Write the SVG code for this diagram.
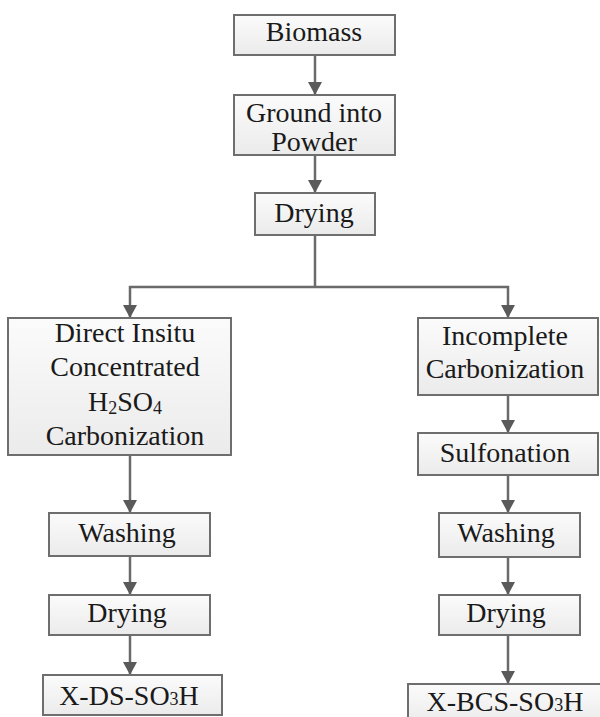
<svg xmlns="http://www.w3.org/2000/svg" width="600" height="717" viewBox="0 0 600 717">
<defs>
<linearGradient id="bg" x1="0" y1="0" x2="0" y2="1">
<stop offset="0" stop-color="#fbfbfb"/>
<stop offset="1" stop-color="#ebebeb"/>
</linearGradient>
<marker id="ah" markerUnits="userSpaceOnUse" markerWidth="14" markerHeight="14" refX="13" refY="7" orient="auto">
<path d="M0,0 L13,7 L0,14 z" fill="#5a5a5a"/>
</marker>
<style>
.box{fill:url(#bg);stroke:#6e6e6e;stroke-width:2}
.t{font-family:"Liberation Serif","Times New Roman",serif;font-size:28px;fill:#1a1a1a;text-anchor:middle}
.sub{font-size:18px}
.ln{fill:none;stroke:#6a6a6a;stroke-width:2.5}
.ar{fill:none;stroke:#6a6a6a;stroke-width:2.5;marker-end:url(#ah)}
</style>
</defs>
<rect width="600" height="717" fill="#ffffff"/>
<g id="connectors">
<line class="ar" x1="315" y1="55" x2="315" y2="95"/>
<line class="ar" x1="315" y1="155" x2="315" y2="193"/>
<polyline class="ln" points="315,235 315,287"/>
<polyline class="ar" points="315,287 130,287 130,318"/>
<polyline class="ar" points="315,287 508,287 508,318"/>
<line class="ar" x1="130" y1="455" x2="130" y2="513"/>
<line class="ar" x1="130" y1="556" x2="130" y2="595"/>
<line class="ar" x1="130" y1="635" x2="130" y2="675"/>
<line class="ar" x1="508" y1="395" x2="508" y2="433"/>
<line class="ar" x1="508" y1="475" x2="508" y2="513"/>
<line class="ar" x1="508" y1="557" x2="508" y2="595"/>
<line class="ar" x1="508" y1="635" x2="508" y2="684"/>
</g>
<g id="biomass">
<rect class="box" x="234" y="15" width="161" height="40"/>
<text class="t" x="314" y="41">Biomass</text>
</g>
<g id="ground">
<rect class="box" x="234" y="95" width="161" height="60"/>
<text class="t" x="314" y="122">Ground into</text>
<text class="t" x="314" y="151">Powder</text>
</g>
<g id="drying-top">
<rect class="box" x="255" y="193" width="120" height="42"/>
<text class="t" x="314" y="222">Drying</text>
</g>
<g id="direct">
<rect class="box" x="8" y="318" width="223" height="137"/>
<text class="t" x="125" y="342">Direct Insitu</text>
<text class="t" x="125" y="376">Concentrated</text>
<text class="t" x="125" y="411">H<tspan class="sub" dy="3">2</tspan><tspan dy="-3">SO</tspan><tspan class="sub" dy="3">4</tspan></text>
<text class="t" x="125" y="445">Carbonization</text>
</g>
<g id="washing-left">
<rect class="box" x="49" y="513" width="161" height="43"/>
<text class="t" x="127" y="542">Washing</text>
</g>
<g id="drying-left">
<rect class="box" x="49" y="595" width="161" height="40"/>
<text class="t" x="127" y="622">Drying</text>
</g>
<g id="xds">
<rect class="box" x="43" y="675" width="179" height="40"/>
<text class="t" x="129" y="705">X-DS-SO<tspan class="sub">3</tspan>H</text>
</g>
<g id="incomplete">
<rect class="box" x="418" y="318" width="180" height="77"/>
<text class="t" x="505" y="345">Incomplete</text>
<text class="t" x="505" y="378">Carbonization</text>
</g>
<g id="sulfonation">
<rect class="box" x="418" y="433" width="180" height="42"/>
<text class="t" x="505" y="462">Sulfonation</text>
</g>
<g id="washing-right">
<rect class="box" x="439" y="513" width="141" height="44"/>
<text class="t" x="506" y="542">Washing</text>
</g>
<g id="drying-right">
<rect class="box" x="439" y="595" width="141" height="40"/>
<text class="t" x="506" y="622">Drying</text>
</g>
<g id="xbcs">
<rect class="box" x="408" y="684" width="200" height="40"/>
<text class="t" x="505" y="711">X-BCS-SO<tspan class="sub">3</tspan>H</text>
</g>
</svg>
